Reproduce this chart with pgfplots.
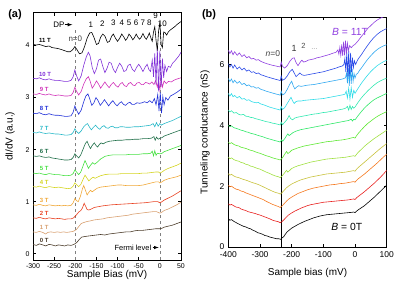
\documentclass[border=0pt]{standalone}
\usepackage{fontspec}
\setmainfont{Liberation Sans}
\usepackage{pgfplots}
\pgfplotsset{compat=1.18}
% panel (a) colours
\definecolor{a0}{HTML}{4A3A28}
\definecolor{a1}{HTML}{D8A070}
\definecolor{a2}{HTML}{E84020}
\definecolor{a3}{HTML}{F0A838}
\definecolor{a4}{HTML}{D4D420}
\definecolor{a5}{HTML}{44E040}
\definecolor{a6}{HTML}{1F6E48}
\definecolor{a7}{HTML}{28B8C8}
\definecolor{a8}{HTML}{2030D8}
\definecolor{a9}{HTML}{D030B8}
\definecolor{a10}{HTML}{8030D8}
\definecolor{a11}{HTML}{000000}
% panel (b) colours
\definecolor{b0}{HTML}{000000}
\definecolor{b1}{HTML}{E8201E}
\definecolor{b2}{HTML}{F5781E}
\definecolor{b3}{HTML}{C8C23C}
\definecolor{b4}{HTML}{A0E040}
\definecolor{b5}{HTML}{5EE832}
\definecolor{b6}{HTML}{30E868}
\definecolor{b7}{HTML}{30E8B0}
\definecolor{b8}{HTML}{30DCE8}
\definecolor{b9}{HTML}{30A8F0}
\definecolor{b10}{HTML}{2848E8}
\definecolor{b11}{HTML}{9040E0}
\begin{document}
\begin{tikzpicture}
\begin{axis}[
  at={(33bp,-260bp)}, anchor=south west, scale only axis,
  width=148bp, height=247.3bp,
  xmin=-300, xmax=50, ymin=-0.12, ymax=4.63,
  xtick={-300,-250,...,50}, ytick={0,1,2,3,4},
  tick align=inside, major tick length=3bp,
  axis line style={line width=0.7pt},
  every tick/.style={line width=0.6pt, black},
  tick label style={font=\fontsize{7}{8}\selectfont},
  /pgf/number format/assume math mode=true,
  xlabel={Sample Bias (mV)}, ylabel={dI/dV (a.u.)},
  label style={font=\fontsize{8.5}{10}\selectfont},
  every axis x label/.style={at={(axis description cs:0.5,-0.062)}, anchor=center},
  every axis y label/.style={at={(axis description cs:-0.155,0.5)}, rotate=90, anchor=center},
  no markers, every axis plot/.append style={line width=0.6pt},
]
\addplot[gray, dashed, line width=0.6pt] coordinates {(-200,-0.12) (-200,4.33)};
\addplot[gray, dashed, line width=0.6pt] coordinates {(0,-0.12) (0,4.38)};
% 0 T
\addplot[a0] coordinates {(-300,0.18) (-292,0.16) (-285,0.19) (-277,0.17) (-270,0.15) (-262,0.18) (-255,0.17) (-247,0.15) (-240,0.17) (-232,0.16) (-225,0.15) (-218,0.17) (-210,0.16) (-203,0.18) (-196,0.22) (-190,0.28) (-185,0.32) (-178,0.33) (-170,0.34) (-160,0.35) (-150,0.36) (-140,0.37) (-130,0.36) (-120,0.38) (-110,0.39) (-100,0.40) (-90,0.41) (-80,0.42) (-70,0.42) (-60,0.44) (-50,0.45) (-40,0.45) (-30,0.46) (-20,0.47) (-10,0.48) (0,0.48) (5,0.49) (10,0.51) (20,0.53) (30,0.55) (40,0.58) (50,0.61)};
% 1 T
\addplot[a1] coordinates {(-300,0.42) (-292,0.41) (-285,0.43) (-277,0.41) (-270,0.38) (-265,0.41) (-258,0.42) (-250,0.41) (-242,0.42) (-235,0.41) (-228,0.42) (-220,0.41) (-212,0.42) (-205,0.43) (-198,0.46) (-192,0.52) (-186,0.58) (-180,0.60) (-172,0.62) (-165,0.63) (-155,0.65) (-145,0.66) (-135,0.67) (-125,0.69) (-115,0.70) (-105,0.71) (-95,0.72) (-85,0.73) (-75,0.74) (-65,0.76) (-55,0.77) (-45,0.78) (-35,0.79) (-25,0.80) (-15,0.81) (-8,0.81) (-3,0.79) (0,0.78) (5,0.80) (10,0.83) (20,0.86) (30,0.90) (40,0.94) (50,0.99)};
% 2 T
\addplot[a2] coordinates {(-300,0.69) (-292,0.68) (-285,0.70) (-277,0.68) (-270,0.67) (-262,0.69) (-255,0.68) (-247,0.67) (-240,0.68) (-232,0.67) (-225,0.66) (-218,0.67) (-210,0.67) (-204,0.69) (-198,0.74) (-192,0.80) (-187,0.83) (-183,0.88) (-179,0.97) (-176,0.92) (-172,0.85) (-168,0.84) (-162,0.86) (-155,0.89) (-135,0.92) (-115,0.94) (-95,0.95) (-75,0.96) (-55,0.97) (-35,0.98) (-15,1.00) (-5,1.00) (0,0.98) (5,1.00) (10,1.03) (20,1.07) (30,1.11) (40,1.16) (50,1.21)};
% 3 T
\addplot[a3] coordinates {(-300,0.94) (-292,0.93) (-285,0.95) (-277,0.93) (-270,0.92) (-262,0.94) (-255,0.93) (-247,0.92) (-240,0.93) (-232,0.92) (-225,0.93) (-218,0.92) (-210,0.93) (-205,0.98) (-201,1.06) (-197,1.02) (-193,1.00) (-188,1.10) (-183,1.25) (-180,1.31) (-176,1.22) (-172,1.13) (-168,1.18) (-164,1.22) (-160,1.19) (-155,1.22) (-148,1.26) (-140,1.28) (-130,1.29) (-120,1.30) (-110,1.31) (-100,1.32) (-90,1.32) (-80,1.31) (-70,1.31) (-60,1.31) (-50,1.31) (-40,1.32) (-30,1.34) (-20,1.36) (-10,1.38) (-3,1.38) (0,1.36) (5,1.38) (10,1.41) (20,1.44) (30,1.46) (40,1.48) (50,1.51)};
% 4 T
\addplot[a4] coordinates {(-300,1.29) (-292,1.28) (-285,1.30) (-277,1.28) (-270,1.27) (-262,1.29) (-255,1.28) (-247,1.27) (-240,1.28) (-232,1.27) (-225,1.26) (-218,1.25) (-210,1.26) (-205,1.30) (-201,1.36) (-197,1.33) (-192,1.29) (-187,1.33) (-181,1.44) (-177,1.51) (-173,1.46) (-168,1.40) (-163,1.44) (-158,1.47) (-153,1.45) (-148,1.47) (-140,1.50) (-130,1.52) (-120,1.53) (-110,1.53) (-100,1.53) (-90,1.54) (-80,1.54) (-70,1.54) (-60,1.54) (-50,1.54) (-40,1.55) (-30,1.55) (-20,1.56) (-10,1.57) (-3,1.57) (0,1.55) (5,1.57) (10,1.60) (20,1.64) (30,1.67) (40,1.70) (50,1.74)};
% 5 T
\addplot[a5] coordinates {(-300,1.55) (-292,1.54) (-285,1.55) (-277,1.53) (-270,1.52) (-262,1.54) (-255,1.53) (-247,1.52) (-240,1.52) (-232,1.51) (-225,1.50) (-218,1.50) (-210,1.51) (-205,1.54) (-201,1.61) (-197,1.57) (-192,1.52) (-187,1.57) (-182,1.68) (-177,1.79) (-173,1.72) (-169,1.64) (-164,1.70) (-159,1.75) (-154,1.72) (-148,1.76) (-140,1.82) (-130,1.87) (-120,1.89) (-110,1.90) (-100,1.90) (-90,1.90) (-80,1.90) (-70,1.91) (-60,1.91) (-50,1.91) (-40,1.92) (-30,1.92) (-22,1.93) (-18,1.97) (-15,1.88) (-12,1.98) (-9,1.89) (-6,1.93) (0,1.92) (5,1.93) (10,1.96) (20,1.99) (30,2.02) (40,2.05) (50,2.08)};
% 6 T
\addplot[a6] coordinates {(-300,1.88) (-292,1.87) (-285,1.88) (-277,1.86) (-270,1.85) (-262,1.86) (-255,1.84) (-247,1.83) (-240,1.82) (-232,1.81) (-225,1.80) (-218,1.80) (-210,1.81) (-205,1.85) (-201,1.92) (-197,1.88) (-192,1.84) (-187,1.90) (-181,2.02) (-176,2.12) (-172,2.16) (-168,2.08) (-164,2.02) (-160,2.08) (-155,2.13) (-151,2.08) (-147,2.05) (-143,2.10) (-139,2.13) (-134,2.11) (-128,2.14) (-120,2.16) (-110,2.17) (-100,2.18) (-90,2.18) (-80,2.19) (-70,2.19) (-60,2.20) (-50,2.20) (-40,2.21) (-30,2.21) (-20,2.22) (-14,2.25) (-11,2.18) (-8,2.24) (-4,2.20) (0,2.22) (5,2.23) (10,2.26) (20,2.29) (30,2.32) (40,2.35) (50,2.38)};
% 7 T
\addplot[a7] coordinates {(-300,2.33) (-292,2.32) (-285,2.34) (-277,2.32) (-270,2.31) (-262,2.32) (-255,2.31) (-247,2.30) (-240,2.30) (-232,2.29) (-225,2.28) (-218,2.28) (-210,2.29) (-205,2.33) (-201,2.40) (-197,2.35) (-192,2.31) (-186,2.36) (-180,2.44) (-175,2.48) (-171,2.50) (-167,2.44) (-162,2.38) (-157,2.43) (-152,2.47) (-147,2.42) (-142,2.39) (-137,2.44) (-132,2.46) (-127,2.42) (-122,2.41) (-117,2.44) (-112,2.45) (-106,2.42) (-100,2.42) (-94,2.44) (-88,2.44) (-80,2.43) (-70,2.43) (-60,2.44) (-50,2.44) (-40,2.45) (-30,2.46) (-22,2.47) (-16,2.50) (-12,2.44) (-8,2.52) (-4,2.45) (0,2.50) (4,2.47) (10,2.50) (20,2.53) (30,2.56) (40,2.60) (50,2.64)};
% 8 T
\addplot[a8] coordinates {(-300,2.70) (-292,2.69) (-285,2.71) (-277,2.68) (-270,2.67) (-262,2.69) (-255,2.67) (-247,2.66) (-240,2.66) (-232,2.65) (-225,2.64) (-218,2.64) (-210,2.65) (-205,2.72) (-201,2.84) (-197,2.76) (-192,2.68) (-186,2.76) (-180,2.92) (-175,3.03) (-170,3.07) (-166,2.98) (-161,2.85) (-156,2.90) (-151,3.00) (-146,2.94) (-141,2.85) (-136,2.90) (-131,2.96) (-126,2.90) (-121,2.84) (-116,2.90) (-111,2.94) (-106,2.88) (-101,2.84) (-96,2.89) (-91,2.92) (-86,2.87) (-81,2.85) (-76,2.89) (-71,2.91) (-66,2.87) (-60,2.87) (-54,2.90) (-48,2.89) (-42,2.90) (-36,2.92) (-30,2.90) (-24,2.94) (-18,2.90) (-13,2.98) (-9,2.86) (-5,3.06) (-2,2.74) (1,3.10) (4,2.70) (7,3.02) (10,2.86) (14,3.00) (19,2.95) (25,3.03) (32,3.06) (40,3.10) (50,3.16)};
% 9 T
\addplot[a9] coordinates {(-300,3.07) (-292,3.06) (-285,3.08) (-277,3.06) (-270,3.05) (-262,3.07) (-255,3.05) (-247,3.04) (-240,3.05) (-232,3.04) (-225,3.03) (-218,3.03) (-210,3.04) (-205,3.10) (-201,3.20) (-197,3.12) (-192,3.05) (-186,3.12) (-180,3.26) (-174,3.36) (-169,3.40) (-165,3.32) (-160,3.18) (-155,3.24) (-150,3.32) (-145,3.26) (-140,3.18) (-135,3.24) (-130,3.30) (-125,3.24) (-120,3.19) (-115,3.25) (-110,3.29) (-104,3.23) (-99,3.20) (-94,3.26) (-89,3.29) (-84,3.23) (-79,3.21) (-74,3.27) (-69,3.29) (-64,3.24) (-59,3.23) (-54,3.28) (-49,3.29) (-44,3.25) (-39,3.25) (-34,3.29) (-29,3.28) (-24,3.26) (-19,3.30) (-14,3.25) (-10,3.33) (-6,3.20) (-3,3.34) (0,3.14) (3,3.36) (6,3.20) (10,3.32) (15,3.27) (20,3.31) (27,3.30) (35,3.34) (42,3.36) (50,3.38)};
% 10 T
\addplot[a10] coordinates {(-300,3.37) (-292,3.36) (-285,3.38) (-277,3.35) (-270,3.34) (-262,3.36) (-255,3.34) (-247,3.33) (-240,3.33) (-232,3.32) (-225,3.31) (-218,3.31) (-210,3.33) (-205,3.40) (-201,3.53) (-197,3.42) (-192,3.32) (-186,3.42) (-180,3.62) (-174,3.78) (-169,3.87) (-165,3.80) (-160,3.58) (-155,3.46) (-150,3.55) (-145,3.72) (-140,3.74) (-135,3.60) (-130,3.48) (-125,3.56) (-120,3.68) (-115,3.66) (-110,3.54) (-105,3.48) (-100,3.58) (-95,3.66) (-90,3.60) (-85,3.50) (-80,3.52) (-75,3.62) (-70,3.64) (-65,3.54) (-60,3.50) (-55,3.58) (-50,3.64) (-45,3.58) (-40,3.50) (-35,3.58) (-30,3.64) (-26,3.54) (-22,3.50) (-18,3.72) (-15,3.40) (-12,3.85) (-9,3.25) (-6,3.95) (-3,3.12) (0,3.90) (3,3.20) (6,3.75) (9,3.38) (12,3.62) (16,3.50) (20,3.60) (25,3.58) (30,3.66) (35,3.70) (40,3.75) (45,3.80) (50,3.87)};
% 11 T
\addplot[a11] coordinates {(-300,4.02) (-292,4.01) (-285,4.02) (-277,4.00) (-270,3.98) (-262,3.99) (-255,3.96) (-247,3.95) (-240,3.94) (-232,3.92) (-225,3.90) (-218,3.88) (-212,3.88) (-206,3.92) (-201,3.98) (-196,3.92) (-190,3.84) (-184,3.86) (-178,3.98) (-172,4.14) (-166,4.24) (-161,4.25) (-156,4.16) (-150,4.02) (-145,4.04) (-140,4.16) (-135,4.22) (-130,4.18) (-124,4.06) (-119,4.08) (-114,4.18) (-110,4.22) (-105,4.14) (-100,4.08) (-95,4.14) (-90,4.22) (-85,4.16) (-81,4.10) (-77,4.14) (-73,4.22) (-68,4.17) (-64,4.11) (-60,4.15) (-56,4.22) (-52,4.16) (-48,4.12) (-44,4.16) (-40,4.23) (-36,4.16) (-32,4.12) (-28,4.18) (-25,4.24) (-21,4.14) (-18,4.08) (-15,4.26) (-12,4.36) (-9,4.10) (-6,3.90) (-3,4.28) (0,4.44) (3,4.02) (6,3.96) (9,4.26) (12,4.25) (16,4.20) (20,4.26) (25,4.30) (30,4.33) (35,4.36) (40,4.40) (45,4.43) (50,4.46)};
% curve labels
\begin{scope}[every node/.style={anchor=west, font=\bfseries\fontsize{6}{7}\selectfont, inner sep=0pt}]
\node[text=a11] at (axis cs:-286,4.10) {11 T};
\node[text=a10] at (axis cs:-286,3.45) {10 T};
\node[text=a9] at (axis cs:-284,3.15) {9 T};
\node[text=a8] at (axis cs:-284,2.79) {8 T};
\node[text=a7] at (axis cs:-284,2.41) {7 T};
\node[text=a6] at (axis cs:-284,1.97) {6 T};
\node[text=a5] at (axis cs:-284,1.63) {5 T};
\node[text=a4] at (axis cs:-284,1.37) {4 T};
\node[text=a3] at (axis cs:-284,1.02) {3 T};
\node[text=a2] at (axis cs:-284,0.77) {2 T};
\node[text=a1] at (axis cs:-284,0.50) {1 T};
\node[text=a0] at (axis cs:-284,0.26) {0 T};
\end{scope}
\begin{scope}[every node/.style={font=\fontsize{8}{9}\selectfont, inner sep=0pt}]
\node at (axis cs:-239,4.40) {DP};
\node[text=black!75] at (axis cs:-200,4.13) {n=0};
\node at (axis cs:-163,4.40) {1};
\node at (axis cs:-136,4.42) {2};
\node at (axis cs:-110,4.43) {3};
\node at (axis cs:-90,4.43) {4};
\node at (axis cs:-73,4.43) {5};
\node at (axis cs:-56,4.43) {6};
\node at (axis cs:-40,4.43) {7};
\node at (axis cs:-25,4.43) {8};
\node at (axis cs:-10,4.57) {9};
\node at (axis cs:6,4.42) {10};
\node[anchor=east, font=\fontsize{7.5}{9}\selectfont] at (axis cs:-20,0.12) {Fermi level};
\end{scope}
\draw[-latex, line width=0.6pt] (axis cs:-225,4.40) -- (axis cs:-207,4.40);
\draw[-latex, line width=0.6pt] (axis cs:-17,0.12) -- (axis cs:-3,0.12);
\end{axis}

\begin{axis}[
  at={(228.3bp,-247bp)}, anchor=south west, scale only axis,
  width=158.4bp, height=229.7bp,
  xmin=-400, xmax=100, ymin=0, ymax=7.55,
  xtick={-400,-300,...,100}, ytick={0,2,4,6},
  tick align=inside, major tick length=3bp,
  axis line style={line width=0.7pt},
  every tick/.style={line width=0.6pt, black},
  tick label style={font=\fontsize{8.5}{10}\selectfont},
  xticklabel style={yshift=-1.5bp},
  yticklabel style={xshift=-0.5bp},
  /pgf/number format/assume math mode=true,
  xlabel={Sample bias (mV)}, ylabel={Tunneling conductance (nS)},
  label style={font=\fontsize{9.8}{11}\selectfont},
  every axis x label/.style={at={(axis description cs:0.5,-0.112)}, anchor=center},
  every axis y label/.style={at={(axis description cs:-0.147,0.5)}, rotate=90, anchor=center},
  no markers, every axis plot/.append style={line width=0.6pt},
]
\addplot[black, line width=0.7pt] coordinates {(-233,0) (-233,7.55)};
% 0 T
\addplot[b0] coordinates {(-400,0.93) (-395,0.88) (-390,0.90) (-382,0.84) (-375,0.80) (-368,0.76) (-360,0.72) (-352,0.68) (-345,0.66) (-337,0.62) (-330,0.60) (-322,0.55) (-315,0.52) (-307,0.47) (-300,0.45) (-292,0.42) (-285,0.38) (-277,0.36) (-270,0.33) (-262,0.31) (-255,0.29) (-247,0.27) (-240,0.27) (-235,0.25) (-230,0.30) (-225,0.34) (-220,0.42) (-214,0.50) (-207,0.56) (-200,0.62) (-190,0.68) (-180,0.74) (-170,0.79) (-160,0.84) (-150,0.88) (-140,0.92) (-130,0.96) (-120,0.99) (-110,1.02) (-100,1.04) (-90,1.06) (-80,1.07) (-70,1.08) (-60,1.09) (-50,1.10) (-40,1.11) (-30,1.12) (-20,1.13) (-10,1.14) (-4,1.15) (0,1.13) (5,1.18) (10,1.22) (20,1.29) (30,1.36) (40,1.45) (50,1.54) (60,1.63) (70,1.73) (80,1.83) (90,1.93) (100,2.03)};
% 1 T
\addplot[b1] coordinates {(-400,1.42) (-395,1.38) (-390,1.40) (-382,1.35) (-375,1.31) (-367,1.30) (-360,1.25) (-352,1.22) (-345,1.20) (-337,1.16) (-330,1.14) (-322,1.12) (-315,1.10) (-307,1.07) (-300,1.05) (-290,1.01) (-280,0.97) (-270,0.93) (-260,0.88) (-250,0.85) (-242,0.83) (-236,0.80) (-230,0.84) (-224,0.90) (-217,0.98) (-210,1.05) (-200,1.12) (-190,1.18) (-180,1.23) (-170,1.28) (-160,1.32) (-150,1.36) (-140,1.39) (-130,1.41) (-120,1.43) (-110,1.45) (-100,1.47) (-90,1.48) (-80,1.49) (-70,1.50) (-60,1.51) (-50,1.52) (-40,1.53) (-30,1.54) (-20,1.55) (-10,1.57) (-4,1.58) (0,1.56) (5,1.62) (10,1.66) (20,1.74) (30,1.82) (40,1.91) (50,2.00) (60,2.09) (70,2.19) (80,2.29) (90,2.40) (100,2.52)};
% 2 T
\addplot[b2] coordinates {(-400,2.03) (-395,1.98) (-390,2.00) (-382,1.94) (-375,1.90) (-367,1.88) (-360,1.84) (-352,1.82) (-345,1.78) (-337,1.75) (-330,1.72) (-322,1.69) (-315,1.66) (-307,1.63) (-300,1.60) (-290,1.56) (-280,1.50) (-270,1.45) (-260,1.40) (-250,1.36) (-242,1.33) (-236,1.30) (-230,1.35) (-224,1.42) (-217,1.50) (-210,1.57) (-200,1.64) (-190,1.70) (-180,1.76) (-170,1.80) (-160,1.84) (-150,1.88) (-140,1.91) (-130,1.94) (-120,1.96) (-110,1.98) (-100,2.00) (-90,2.02) (-80,2.04) (-70,2.05) (-60,2.06) (-50,2.08) (-40,2.09) (-30,2.10) (-20,2.12) (-10,2.14) (-4,2.15) (0,2.13) (5,2.19) (10,2.24) (20,2.32) (30,2.40) (40,2.49) (50,2.58) (60,2.67) (70,2.76) (80,2.86) (90,2.96) (100,3.05)};
% 3 T
\addplot[b3] coordinates {(-400,2.41) (-395,2.36) (-390,2.39) (-382,2.33) (-375,2.30) (-367,2.28) (-360,2.25) (-352,2.22) (-345,2.20) (-337,2.17) (-330,2.14) (-322,2.11) (-315,2.09) (-307,2.06) (-300,2.03) (-290,1.98) (-280,1.93) (-270,1.88) (-260,1.83) (-250,1.79) (-242,1.77) (-236,1.74) (-230,1.79) (-224,1.86) (-217,1.94) (-210,2.00) (-200,2.07) (-190,2.12) (-180,2.17) (-170,2.21) (-160,2.24) (-150,2.27) (-140,2.30) (-130,2.32) (-120,2.34) (-110,2.36) (-100,2.38) (-90,2.40) (-80,2.41) (-70,2.42) (-60,2.43) (-50,2.44) (-40,2.45) (-30,2.46) (-20,2.48) (-10,2.50) (-4,2.51) (0,2.49) (5,2.56) (10,2.61) (20,2.70) (30,2.79) (40,2.88) (50,2.97) (60,3.06) (70,3.15) (80,3.24) (90,3.32) (100,3.40)};
% 4 T
\addplot[b4] coordinates {(-400,2.96) (-395,2.90) (-390,2.93) (-382,2.87) (-375,2.84) (-367,2.82) (-360,2.78) (-352,2.76) (-345,2.72) (-337,2.70) (-330,2.66) (-322,2.64) (-315,2.61) (-307,2.58) (-300,2.56) (-290,2.51) (-280,2.46) (-270,2.42) (-260,2.37) (-250,2.33) (-242,2.31) (-236,2.28) (-230,2.34) (-225,2.40) (-220,2.47) (-216,2.52) (-212,2.46) (-206,2.52) (-200,2.58) (-190,2.63) (-180,2.67) (-170,2.70) (-160,2.73) (-150,2.76) (-140,2.79) (-130,2.81) (-120,2.83) (-110,2.85) (-100,2.87) (-90,2.89) (-80,2.90) (-70,2.91) (-60,2.92) (-50,2.93) (-40,2.94) (-30,2.95) (-20,2.97) (-10,2.99) (-4,3.00) (0,2.98) (5,3.05) (10,3.11) (20,3.21) (30,3.31) (40,3.40) (50,3.48) (60,3.56) (70,3.63) (80,3.70) (90,3.77) (100,3.84)};
% 5 T
\addplot[b5] coordinates {(-400,3.45) (-395,3.40) (-390,3.43) (-382,3.37) (-375,3.34) (-367,3.32) (-360,3.28) (-352,3.26) (-345,3.24) (-337,3.21) (-330,3.18) (-322,3.16) (-315,3.13) (-307,3.10) (-300,3.08) (-290,3.04) (-280,3.00) (-270,2.97) (-260,2.93) (-250,2.90) (-242,2.88) (-236,2.86) (-230,2.92) (-225,3.00) (-220,3.08) (-216,3.14) (-212,3.07) (-206,3.12) (-200,3.18) (-190,3.22) (-180,3.26) (-170,3.29) (-160,3.32) (-150,3.34) (-140,3.36) (-130,3.38) (-120,3.40) (-110,3.42) (-100,3.44) (-90,3.46) (-80,3.47) (-70,3.48) (-60,3.50) (-50,3.51) (-40,3.52) (-30,3.54) (-20,3.56) (-10,3.59) (-4,3.60) (0,3.58) (5,3.66) (10,3.73) (20,3.85) (30,3.96) (40,4.06) (50,4.14) (60,4.22) (70,4.29) (80,4.35) (90,4.40) (100,4.45)};
% 6 T
\addplot[b6] coordinates {(-400,4.00) (-395,3.95) (-390,3.98) (-382,3.92) (-375,3.90) (-367,3.87) (-360,3.84) (-352,3.82) (-345,3.79) (-337,3.77) (-330,3.74) (-322,3.72) (-315,3.70) (-307,3.67) (-300,3.65) (-290,3.62) (-280,3.58) (-270,3.55) (-260,3.52) (-250,3.49) (-242,3.47) (-236,3.45) (-232,3.52) (-228,3.48) (-222,3.56) (-216,3.66) (-212,3.72) (-208,3.66) (-203,3.70) (-196,3.76) (-188,3.80) (-180,3.83) (-170,3.86) (-160,3.88) (-150,3.90) (-140,3.92) (-130,3.94) (-120,3.96) (-110,3.98) (-100,4.00) (-90,4.02) (-80,4.04) (-70,4.06) (-60,4.08) (-50,4.10) (-40,4.12) (-30,4.14) (-20,4.16) (-12,4.20) (-8,4.14) (-4,4.20) (0,4.18) (5,4.25) (10,4.32) (20,4.45) (30,4.57) (40,4.67) (50,4.76) (60,4.84) (70,4.90) (80,4.95) (90,5.00) (100,5.05)};
% 7 T
\addplot[b7] coordinates {(-400,4.50) (-395,4.44) (-390,4.48) (-382,4.40) (-375,4.42) (-367,4.36) (-360,4.34) (-352,4.36) (-345,4.30) (-337,4.29) (-330,4.26) (-322,4.25) (-315,4.22) (-307,4.20) (-300,4.18) (-290,4.15) (-280,4.12) (-270,4.10) (-260,4.07) (-250,4.05) (-242,4.03) (-236,4.01) (-233,4.10) (-229,4.02) (-222,4.10) (-214,4.20) (-208,4.32) (-203,4.22) (-197,4.18) (-190,4.24) (-180,4.27) (-170,4.29) (-160,4.31) (-150,4.33) (-140,4.35) (-130,4.37) (-120,4.38) (-110,4.40) (-100,4.42) (-90,4.43) (-80,4.45) (-70,4.47) (-60,4.49) (-50,4.51) (-40,4.53) (-30,4.56) (-24,4.62) (-20,4.50) (-16,4.66) (-12,4.52) (-8,4.62) (-4,4.56) (0,4.60) (5,4.68) (10,4.76) (20,4.90) (30,5.02) (40,5.13) (50,5.23) (60,5.32) (70,5.40) (80,5.46) (90,5.51) (100,5.55)};
% 8 T
\addplot[b8] coordinates {(-400,5.05) (-395,4.96) (-390,5.04) (-385,4.94) (-380,4.98) (-372,4.90) (-365,4.95) (-357,4.86) (-350,4.88) (-342,4.82) (-335,4.84) (-327,4.78) (-320,4.76) (-312,4.74) (-305,4.75) (-297,4.70) (-290,4.68) (-280,4.64) (-270,4.60) (-260,4.57) (-250,4.54) (-242,4.52) (-236,4.50) (-233,4.62) (-229,4.52) (-222,4.58) (-215,4.70) (-208,4.82) (-202,4.92) (-197,4.80) (-192,4.72) (-186,4.78) (-180,4.80) (-170,4.80) (-160,4.82) (-150,4.83) (-140,4.84) (-130,4.85) (-120,4.86) (-110,4.87) (-100,4.88) (-90,4.90) (-80,4.92) (-70,4.94) (-60,4.96) (-50,4.98) (-40,5.00) (-32,5.02) (-28,5.12) (-24,4.90) (-20,5.22) (-16,4.86) (-12,5.24) (-8,4.92) (-4,5.15) (0,5.05) (4,5.12) (10,5.22) (20,5.38) (30,5.52) (40,5.65) (50,5.77) (60,5.87) (70,5.96) (80,6.03) (90,6.09) (100,6.14)};
% 9 T
\addplot[b9] coordinates {(-400,5.54) (-395,5.44) (-390,5.52) (-385,5.40) (-380,5.48) (-372,5.38) (-365,5.44) (-357,5.34) (-350,5.38) (-342,5.30) (-335,5.33) (-327,5.26) (-320,5.27) (-312,5.22) (-305,5.24) (-297,5.18) (-290,5.16) (-280,5.12) (-270,5.09) (-260,5.06) (-250,5.03) (-242,5.01) (-236,4.99) (-233,5.12) (-229,5.00) (-222,5.04) (-214,5.18) (-206,5.35) (-200,5.45) (-195,5.30) (-190,5.20) (-184,5.26) (-178,5.30) (-170,5.28) (-160,5.30) (-150,5.32) (-140,5.33) (-130,5.34) (-120,5.36) (-110,5.38) (-100,5.40) (-90,5.42) (-80,5.44) (-70,5.46) (-60,5.48) (-50,5.50) (-40,5.52) (-33,5.55) (-30,5.56) (-27,5.72) (-24,5.38) (-21,5.88) (-18,5.30) (-15,5.92) (-12,5.36) (-9,5.85) (-6,5.45) (-3,5.70) (0,5.55) (4,5.68) (8,5.70) (15,5.82) (20,5.88) (30,6.03) (40,6.17) (50,6.29) (60,6.40) (70,6.49) (80,6.56) (90,6.61) (100,6.65)};
% 10 T
\addplot[b10] coordinates {(-400,6.03) (-395,5.92) (-390,6.00) (-385,5.88) (-380,5.98) (-372,5.85) (-365,5.92) (-357,5.82) (-350,5.88) (-342,5.78) (-335,5.82) (-327,5.74) (-320,5.76) (-312,5.70) (-305,5.72) (-297,5.66) (-290,5.64) (-280,5.60) (-270,5.57) (-260,5.54) (-250,5.51) (-242,5.49) (-236,5.47) (-233,5.62) (-229,5.48) (-222,5.52) (-214,5.62) (-206,5.76) (-198,5.84) (-192,5.72) (-186,5.60) (-180,5.66) (-174,5.72) (-168,5.66) (-160,5.64) (-150,5.66) (-140,5.68) (-130,5.70) (-120,5.72) (-110,5.74) (-100,5.76) (-90,5.79) (-80,5.82) (-70,5.85) (-60,5.88) (-50,5.92) (-40,5.95) (-35,6.00) (-32,6.20) (-29,5.75) (-26,6.40) (-23,5.60) (-20,6.45) (-17,5.62) (-14,6.38) (-11,5.75) (-8,6.22) (-5,5.90) (-2,6.12) (2,6.00) (6,6.10) (10,6.18) (20,6.32) (30,6.48) (40,6.63) (50,6.77) (60,6.89) (70,6.99) (80,7.07) (90,7.13) (100,7.18)};
% 11 T
\addplot[b11] coordinates {(-400,6.47) (-395,6.36) (-390,6.45) (-385,6.32) (-380,6.42) (-372,6.30) (-365,6.38) (-357,6.26) (-350,6.32) (-342,6.22) (-335,6.26) (-327,6.18) (-320,6.20) (-312,6.14) (-305,6.16) (-297,6.10) (-290,6.07) (-280,6.03) (-270,6.00) (-260,5.97) (-250,5.95) (-242,5.93) (-236,5.92) (-233,6.08) (-229,5.94) (-222,5.88) (-214,5.96) (-206,6.10) (-198,6.20) (-192,6.22) (-186,6.06) (-180,5.96) (-174,6.06) (-168,6.14) (-162,6.08) (-155,6.10) (-148,6.14) (-140,6.16) (-130,6.18) (-120,6.22) (-110,6.24) (-100,6.27) (-90,6.30) (-80,6.33) (-70,6.37) (-60,6.40) (-54,6.48) (-51,6.34) (-48,6.56) (-45,6.30) (-42,6.66) (-39,6.28) (-36,6.75) (-33,6.30) (-30,6.78) (-27,6.36) (-24,6.70) (-21,6.45) (-17,6.62) (-12,6.55) (-6,6.62) (0,6.66) (10,6.78) (20,6.92) (30,7.05) (40,7.18) (50,7.28) (60,7.38) (70,7.46) (80,7.52) (90,7.57) (100,7.62)};
\begin{scope}[every node/.style={inner sep=0pt}]
\node[anchor=east, font=\fontsize{8.5}{10}\selectfont, text=black!75] at (axis cs:-236,6.37) {\textit{n}=0};
\node[font=\fontsize{9}{10}\selectfont, text=black!80] at (axis cs:-192,6.54) {1};
\node[font=\fontsize{7.5}{9}\selectfont, text=black!70] at (axis cs:-163,6.60) {2};
\node[font=\fontsize{7.5}{9}\selectfont, text=black!40] at (axis cs:-128,6.52) {...};
\node[font=\fontsize{10.4}{12}\selectfont, text=b11] at (axis cs:-16,7.07) {\textit{B} = 11T};
\node[font=\fontsize{10.4}{12}\selectfont] at (axis cs:-26,0.66) {\textit{B} = 0T};
\end{scope}
\end{axis}
\node[font=\bfseries\fontsize{11}{12}\selectfont] at (15bp,-15bp) {(a)};
\node[font=\bfseries\fontsize{11}{12}\selectfont] at (209bp,-15bp) {(b)};
\pgfresetboundingbox
\path[use as bounding box] (0,0) rectangle (399bp,-284bp);
\end{tikzpicture}
\end{document}
